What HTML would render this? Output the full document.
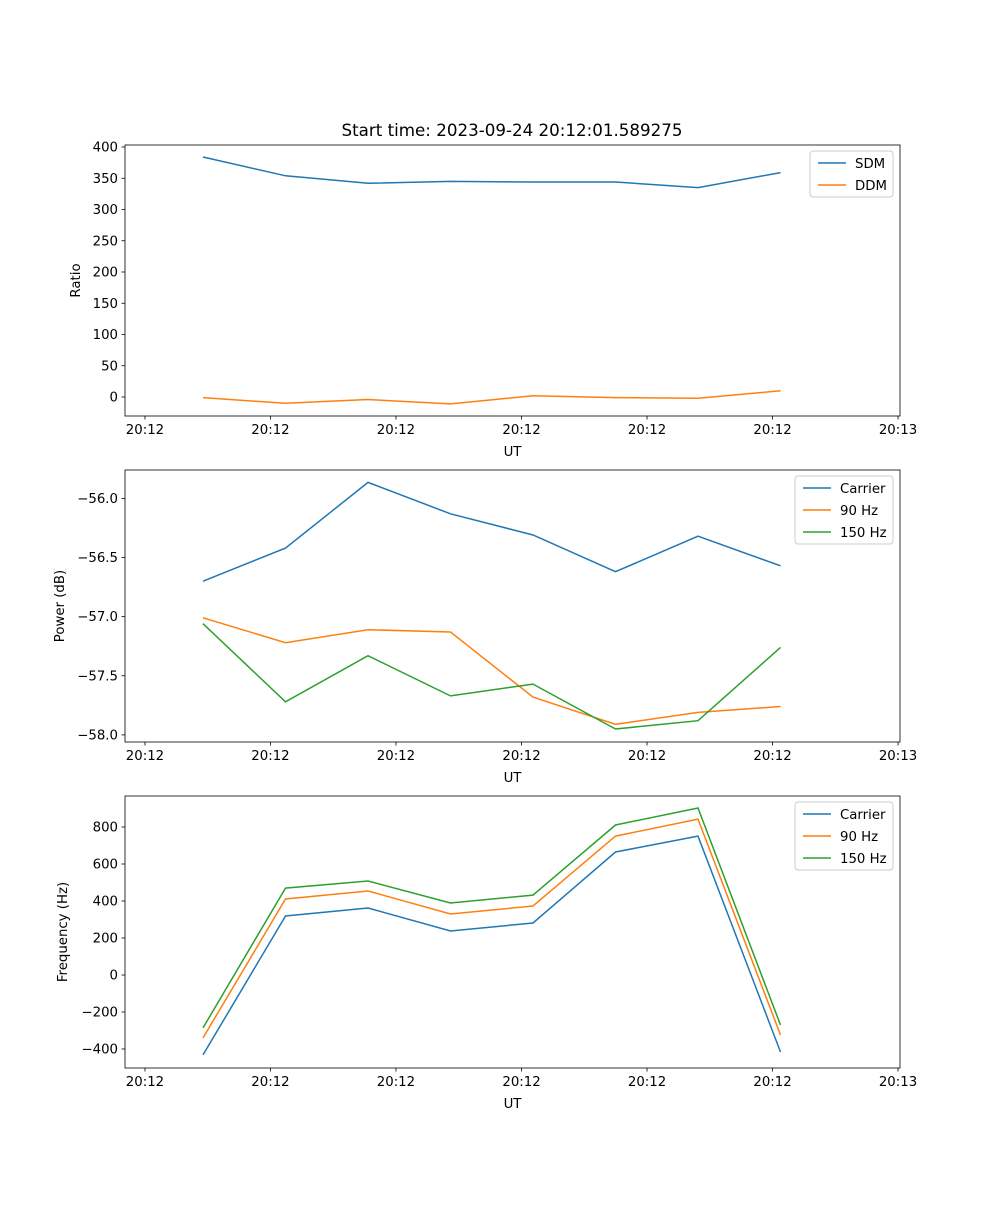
<!DOCTYPE html>
<html><head><meta charset="utf-8"><style>
body{margin:0;background:#fff;}
svg text{font-family:"DejaVu Sans","Liberation Sans",sans-serif;fill:#000;}
</style></head><body>
<svg id="fig" width="1000" height="1200" xmlns="http://www.w3.org/2000/svg"></svg>
<script>
const xTickLabels = ["20:12","20:12","20:12","20:12","20:12","20:12","20:13"];
const sdm = [384,354,342,345,344,344,335,359];
const ddm = [-1,-10,-4,-11,2,-1,-2,10];
const pCarrier = [-56.70,-56.42,-55.865,-56.13,-56.31,-56.62,-56.32,-56.57];
const p90 = [-57.01,-57.22,-57.11,-57.13,-57.68,-57.91,-57.81,-57.76];
const p150 = [-57.06,-57.72,-57.33,-57.67,-57.57,-57.95,-57.88,-57.26];
const fCarrier = [-432,319,362,238,281,665,751,-416];
const f90 = [-340,411,454,330,373,751,843,-324];
const f150 = [-286,470,508,389,432,811,903,-270];
const ticks1 = [0,50,100,150,200,250,300,350,400];
const ticks2 = [-58.0,-57.5,-57.0,-56.5,-56.0];
const ticks3 = [-400,-200,0,200,400,600,800];

const NS="http://www.w3.org/2000/svg";
const svg=document.getElementById('fig');
function mk(tag,attrs,parent){const e=document.createElementNS(NS,tag);for(const k in attrs)e.setAttribute(k,attrs[k]);(parent||svg).appendChild(e);return e;}
const L=125,R=900;
const xmin=-0.945,xmax=8.448;
function xs(i){return L+(i-xmin)/(xmax-xmin)*(R-L);}
const xTickIdx=[-0.703,0.818,2.339,3.861,5.382,6.903,8.424];
const colors=["#1f77b4","#ff7f0e","#2ca02c"];

function panel(name,top,bot,ymin,ymax,yticks,fmt,ylabel,series,labels,legend){
  const g=mk('g',{});
  
  
  const ys=v=>bot-(v-ymin)/(ymax-ymin)*(bot-top);
  series.forEach((s,k)=>{
    const d=s.map((v,i)=>(i?'L':'M')+xs(i).toFixed(1)+','+ys(v).toFixed(1)).join('');
    const p=mk('path',{d:d,fill:'none',stroke:colors[k],'stroke-width':1.5},g);
    
    
  });
  const fr=mk('rect',{x:L,y:top,width:R-L,height:bot-top,fill:'none',stroke:'#000','stroke-width':0.8},g);
  
  
  yticks.forEach(v=>{
    const y=ys(v);
    mk('line',{x1:L-3.5,x2:L,y1:y,y2:y,stroke:'#000','stroke-width':0.8},g);
    const t=mk('text',{x:L-7,y:y+4.5,'text-anchor':'end','font-size':13.3},g);
    t.textContent=fmt(v);
    
    
  });
  xTickIdx.forEach((xi,j)=>{
    const x=xs(xi);
    mk('line',{x1:x,x2:x,y1:bot,y2:bot+3.5,stroke:'#000','stroke-width':0.8},g);
    const t=mk('text',{x:x,y:bot+18,'text-anchor':'middle','font-size':13.3},g);
    t.textContent=xTickLabels[j];
    
    
  });
  const xl=mk('text',{x:(L+R)/2,y:bot+40,'text-anchor':'middle','font-size':13.3},g);
  xl.textContent='UT';
  
  
  const cy=(top+bot)/2;
  const yl=mk('text',{x:0,y:0,'text-anchor':'middle','font-size':13.3,transform:`translate(${legend.yl},${cy}) rotate(-90)`},g);
  yl.textContent=ylabel;
  
  
  const lg=mk('g',{},g);
  
  
  const h=labels.length*22+2;
  mk('rect',{x:legend.x,y:top+6,width:893-legend.x,height:h,rx:3,fill:'#fff','fill-opacity':0.8,stroke:'#ccc'},lg);
  labels.forEach((lab,k)=>{
    const y=top+18+k*22;
    mk('line',{x1:legend.x+8,x2:legend.x+36,y1:y,y2:y,stroke:colors[k],'stroke-width':1.5},lg);
    const t=mk('text',{x:legend.x+45,y:y+5,'font-size':13.3},lg);
    t.textContent=lab;
    
    
  });
}
const title=mk('text',{x:512,y:136,'text-anchor':'middle','font-size':16.7});
title.textContent='Start time: 2023-09-24 20:12:01.589275';


panel('ratio-panel',145,416,-30.4,403.2,ticks1,v=>String(v),'Ratio',[sdm,ddm],['SDM','DDM'],{x:810,yl:80});
panel('power-panel',470,742,-58.06,-55.76,ticks2,v=>'\u2212'+Math.abs(v).toFixed(1),'Power (dB)',[pCarrier,p90,p150],['Carrier','90 Hz','150 Hz'],{x:795,yl:64});
panel('frequency-panel',796,1068,-502.7,967.6,ticks3,v=>v<0?'\u2212'+Math.abs(v):String(v),'Frequency (Hz)',[fCarrier,f90,f150],['Carrier','90 Hz','150 Hz'],{x:795,yl:67});
</script>
</body></html>
